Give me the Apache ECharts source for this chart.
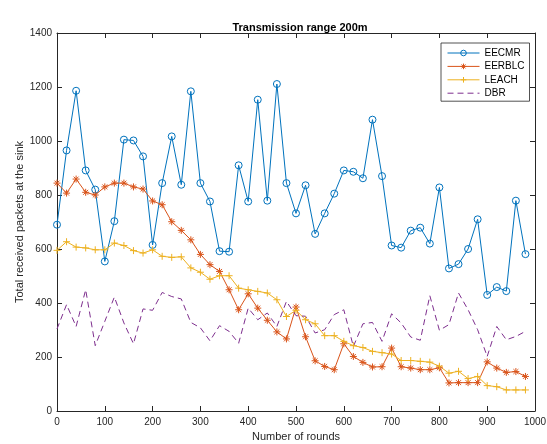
<!DOCTYPE html>
<html>
<head>
<meta charset="utf-8">
<script src="https://cdn.jsdelivr.net/npm/echarts@6/dist/echarts.min.js"></script>
<style>
  html, body { margin: 0; padding: 0; background: #fff; }
  #chart { width: 547px; height: 444px; }
</style>
</head>
<body>
<div id="chart"></div>
<script>
// Rounds sampled every 20 rounds
const rounds = [0, 20, 40, 60, 80, 100, 120, 140, 160, 180,
  200, 220, 240, 260, 280, 300, 320, 340, 360, 380,
  400, 420, 440, 460, 480, 500, 520, 540, 560, 580,
  600, 620, 640, 660, 680, 700, 720, 740, 760, 780,
  800, 820, 840, 860, 880, 900, 920, 940, 960, 980];

// Total received packets at the sink, per protocol
const eecmr = [690, 965, 1186, 891, 820, 554, 703, 1005, 1002, 943,
  615, 844, 1017, 838, 1184, 844, 776, 592, 590, 910,
  776, 1153, 779, 1211, 844, 732, 836, 656, 732, 805,
  891, 886, 862, 1079, 870, 613, 605, 668, 679, 620,
  828, 528, 544, 600, 710, 430, 459, 444, 779, 581];

const eerblc = [844, 807, 859, 810, 800, 830, 844, 844, 830, 822,
  778, 764, 701, 669, 634, 580, 542, 517, 449, 375,
  434, 381, 336, 293, 267, 385, 275, 186, 165, 153,
  249, 202, 180, 163, 164, 233, 164, 159, 153, 153,
  160, 104, 105, 105, 105, 182, 159, 143, 146, 128];

const leach = [595, 627, 607, 604, 597, 597, 622, 613, 594, 585,
  597, 573, 569, 571, 530, 514, 488, 501, 501, 455,
  449, 443, 437, 412, 350, 373, 338, 323, 279, 279,
  258, 242, 235, 221, 216, 211, 187, 187, 184, 181,
  166, 140, 147, 120, 128, 94, 90, 78, 78, 78];

const dbr = [304, 394, 313, 449, 242, 332, 422, 326, 249, 378,
  373, 439, 424, 415, 328, 308, 260, 316, 295, 251,
  381, 338, 363, 313, 406, 353, 351, 289, 301, 357,
  375, 239, 323, 328, 258, 360, 326, 274, 262, 427,
  299, 320, 437, 375, 301, 202, 313, 264, 276, 295];

const seriesNames = ['EECMR', 'EERBLC', 'LEACH', 'DBR'];
const xTicks = { min: 0, max: 1000, step: 100 };
const yTicks = { min: 0, max: 1400, step: 200 };

const FONT = '"Liberation Sans", Arial, Helvetica, sans-serif';
const AXIS = '#262626';
const COLORS = ['#0072BD', '#D95319', '#EDB120', '#7E2F8E'];

// Open marker outlines, stroked only
const RING = 'path://M10,0A10,10,0,1,1,-10,0A10,10,0,1,1,10,0Z';
const ASTERISK = 'path://M0,-10L0,10M-10,0L10,0M-7,-7L7,7M-7,7L7,-7';
const PLUS = 'path://M0,-10L0,10M-10,0L10,0';

function pairs(values) {
  return rounds.map((r, i) => [r, values[i]]);
}

function boxAxis(extra) {
  return Object.assign({
    type: 'value',
    splitLine: { show: false },
    axisLine: { show: true, onZero: false, lineStyle: { color: AXIS, width: 1 } },
    axisTick: { show: true, inside: true, length: 5, lineStyle: { color: AXIS, width: 1 } },
    axisLabel: { show: false }
  }, extra);
}

const tickLabel = {
  show: true, color: AXIS, fontSize: 10, fontFamily: FONT,
  formatter: v => String(v)
};
const nameStyle = { color: AXIS, fontSize: 11, fontFamily: FONT };

function markerSeries(idx, values, symbol, size) {
  return {
    name: seriesNames[idx], type: 'line', data: pairs(values),
    symbol: symbol, symbolSize: size,
    lineStyle: { color: COLORS[idx], width: 1 },
    itemStyle: { color: 'rgba(0,0,0,0)', borderColor: COLORS[idx], borderWidth: 1 }
  };
}

const chart = echarts.init(document.getElementById('chart'), null, { renderer: 'canvas' });

chart.setOption({
  animation: false,
  backgroundColor: '#fff',
  title: {
    text: 'Transmission range 200m',
    left: 295,
    textAlign: 'center',
    top: 17,
    textStyle: { fontSize: 11, fontWeight: 'bold', color: '#000', fontFamily: FONT }
  },
  grid: {
    left: 57, top: 33, width: 478, height: 378,
    outerBoundsMode: 'none'
  },
  legend: {
    orient: 'vertical',
    left: 441, top: 43,
    itemWidth: 32, itemHeight: 7, itemGap: 3.4,
    padding: [5, 5, 3, 6],
    backgroundColor: '#fff',
    borderColor: AXIS, borderWidth: 0.8,
    lineStyle: { width: 1 },
    itemStyle: { borderWidth: 1 },
    textStyle: { fontSize: 10, color: '#000', fontFamily: FONT },
    data: [
      seriesNames[0], seriesNames[1], seriesNames[2],
      { name: seriesNames[3], itemStyle: { opacity: 0 } }
    ]
  },
  xAxis: [
    boxAxis({
      position: 'bottom', min: xTicks.min, max: xTicks.max, interval: xTicks.step,
      axisLabel: Object.assign({ margin: 6 }, tickLabel),
      name: 'Number of rounds', nameLocation: 'middle', nameGap: 20,
      nameMoveOverlap: false, nameTextStyle: nameStyle
    }),
    boxAxis({ position: 'top', min: xTicks.min, max: xTicks.max, interval: xTicks.step })
  ],
  yAxis: [
    boxAxis({
      position: 'left', min: yTicks.min, max: yTicks.max, interval: yTicks.step,
      axisLabel: Object.assign({ margin: 5 }, tickLabel),
      name: 'Total received packets at the sink', nameLocation: 'middle', nameGap: 32,
      nameMoveOverlap: false, nameTextStyle: nameStyle
    }),
    boxAxis({ position: 'right', min: yTicks.min, max: yTicks.max, interval: yTicks.step })
  ],
  series: [
    markerSeries(0, eecmr, RING, 7),
    markerSeries(1, eerblc, ASTERISK, 7),
    markerSeries(2, leach, PLUS, 7),
    {
      name: seriesNames[3], type: 'line', data: pairs(dbr),
      symbol: 'none', showSymbol: false,
      lineStyle: { color: COLORS[3], width: 1, type: [6, 4] },
      itemStyle: { color: COLORS[3] }
    }
  ]
});
</script>
</body>
</html>
